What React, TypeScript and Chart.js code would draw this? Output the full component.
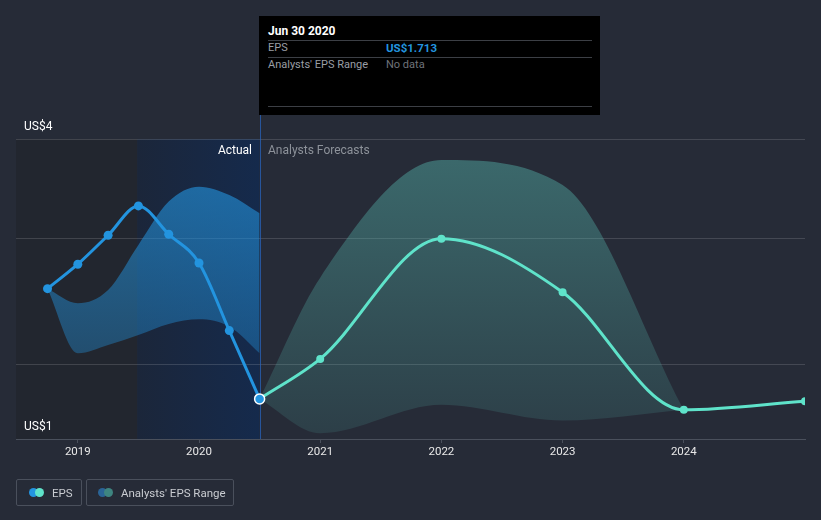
import React, { useEffect, useRef } from "react";
import { Chart, registerables } from "chart.js";

Chart.register(...registerables);

// ---- data ----
const actualDates = [2018.75, 2019.0, 2019.25, 2019.5, 2019.75, 2020.0, 2020.25, 2020.5];
const actualEps = [2.683, 2.898, 3.153, 3.411, 3.162, 2.909, 2.314, 1.713];
const pastRangeHigh = [2.683, 2.555, 2.672, 3.068, 3.449, 3.58, 3.507, 3.346];
const pastRangeLow = [2.683, 2.115, 2.188, 2.276, 2.373, 2.414, 2.349, 2.115];

const forecastDates = [2020.5, 2021, 2022, 2023, 2024, 2025];
const forecastEps = [1.713, 2.065, 3.123, 2.652, 1.617, 1.693];

const rangeDates = [2020.5, 2021, 2022, 2023, 2024];
const rangeHigh = [1.713, 2.78, 3.815, 3.595, 1.617];
const rangeLow = [1.713, 1.411, 1.661, 1.522, 1.617];

const yearTicks = [2019, 2020, 2021, 2022, 2023, 2024];
const yGridValues = [1.36, 2.02, 3.12, 4];
const yTickLabels = ["US$1", "", "", "US$4"];

const xMin = 2018.49;
const xMax = 2025.0;
const yMin = 1.36;
const yMax = 4;
const actualStart = 2019.49;
const nowDate = 2020.5;

const BG = "#262b37";
const BLUE = "#2394df";
const TEAL = "#5fe3ca";
const FONT = "Roboto, 'Open Sans', sans-serif";

const toPts = (xs: number[], ys: number[]) => xs.map((x, i) => ({ x, y: ys[i] }));

const bgPlugin = {
  id: "bgRegions",
  beforeDraw(chart: any) {
    const { ctx, chartArea, scales } = chart;
    const x = scales.x;
    ctx.save();
    ctx.fillStyle = BG;
    ctx.fillRect(0, 0, chart.width, chart.height);
    const x0 = chartArea.left;
    const x1 = x.getPixelForValue(actualStart);
    const x2 = x.getPixelForValue(nowDate);
    ctx.fillStyle = "#22262f";
    ctx.fillRect(x0, chartArea.top, x1 - x0, chartArea.bottom - chartArea.top);
    const g = ctx.createLinearGradient(x1, 0, x2, 0);
    g.addColorStop(0, "rgb(27,38,58)");
    g.addColorStop(1, "rgb(21,42,76)");
    ctx.fillStyle = g;
    ctx.fillRect(x1, chartArea.top, x2 - x1, chartArea.bottom - chartArea.top);
    ctx.restore();
  },
  beforeDatasetsDraw(chart: any) {
    const { ctx, chartArea, scales } = chart;
    const x2 = Math.round(scales.x.getPixelForValue(nowDate)) + 0.5;
    ctx.save();
    ctx.strokeStyle = "rgba(40,100,190,0.75)";
    ctx.lineWidth = 1;
    ctx.beginPath();
    ctx.moveTo(x2, 115);
    ctx.lineTo(x2, chartArea.bottom);
    ctx.stroke();
    ctx.restore();
  },
};

function vGrad(rgb: string, aTop: number, aBottom: number) {
  return (c: any) => {
    const chart = c.chart;
    const area = chart.chartArea;
    if (!area) return `rgba(${rgb},${aTop})`;
    const g = chart.ctx.createLinearGradient(0, area.top, 0, area.bottom);
    g.addColorStop(0, `rgba(${rgb},${aTop})`);
    g.addColorStop(1, `rgba(${rgb},${aBottom})`);
    return g;
  };
}

function ChartView() {
  const ref = useRef<HTMLCanvasElement | null>(null);
  useEffect(() => {
    if (!ref.current) return;
    const chart = new Chart(ref.current, {
      type: "line",
      data: {
        datasets: [
          {
            label: "EPS",
            data: toPts(actualDates, actualEps),
            borderColor: BLUE,
            backgroundColor: BLUE,
            borderWidth: 3,
            pointRadius: actualDates.map((_, i) => (i === actualDates.length - 1 ? 5 : 4.5)),
            pointBackgroundColor: BLUE,
            pointBorderColor: actualDates.map((_, i) => (i === actualDates.length - 1 ? "#ffffff" : BLUE)),
            pointBorderWidth: actualDates.map((_, i) => (i === actualDates.length - 1 ? 1.5 : 0)),
            cubicInterpolationMode: "monotone",
            fill: false,
            order: 0,
          },
          {
            label: "EPS forecast",
            data: toPts(forecastDates, forecastEps),
            borderColor: TEAL,
            backgroundColor: TEAL,
            borderWidth: 3,
            pointRadius: forecastDates.map((_, i) => (i === 0 ? 0 : 4)),
            pointBorderWidth: 0,
            cubicInterpolationMode: "monotone",
            fill: false,
            order: 1,
          },
          {
            label: "Past range high",
            data: toPts(actualDates, pastRangeHigh),
            borderWidth: 0,
            borderColor: "rgba(0,0,0,0)",
            pointRadius: 0,
            backgroundColor: vGrad("35,148,223", 0.68, 0.24),
            fill: "+1",
            cubicInterpolationMode: "monotone",
            order: 2,
          },
          {
            label: "Past range low",
            data: toPts(actualDates, pastRangeLow),
            borderWidth: 0,
            borderColor: "rgba(0,0,0,0)",
            pointRadius: 0,
            fill: false,
            cubicInterpolationMode: "monotone",
            order: 2,
          },
          {
            label: "Range high",
            data: toPts(rangeDates, rangeHigh),
            borderWidth: 0,
            borderColor: "rgba(0,0,0,0)",
            pointRadius: 0,
            backgroundColor: vGrad("88,190,180", 0.44, 0.13),
            fill: "+1",
            cubicInterpolationMode: "monotone",
            order: 3,
          },
          {
            label: "Range low",
            data: toPts(rangeDates, rangeLow),
            borderWidth: 0,
            borderColor: "rgba(0,0,0,0)",
            pointRadius: 0,
            fill: false,
            cubicInterpolationMode: "monotone",
            order: 3,
          },
        ],
      },
      options: {
        responsive: false,
        animation: false,
        events: [],
        layout: { padding: { left: 16, right: 16, top: 139, bottom: 51 } },
        plugins: { legend: { display: false }, tooltip: { enabled: false } },
        scales: {
          x: {
            type: "linear",
            min: xMin,
            max: xMax,
            afterBuildTicks: (s: any) => {
              s.ticks = yearTicks.map((v) => ({ value: v }));
            },
            afterFit: (s: any) => {
              s.height = 30;
            },
            grid: { display: true, drawOnChartArea: false, drawTicks: true, tickLength: 4, color: "#4a505c" },
            border: { display: true, color: "#4a505c", width: 1 },
            ticks: {
              display: true,
              color: "#e8e8e8",
              font: { family: FONT, size: 11.5 },
              padding: 2,
              maxRotation: 0,
              minRotation: 0,
              autoSkip: false,
              callback: (v: any) => String(v),
            },
          },
          y: {
            type: "linear",
            min: yMin,
            max: yMax,
            afterBuildTicks: (s: any) => {
              s.ticks = yGridValues.map((v) => ({ value: v }));
            },
            afterFit: (s: any) => {
              s.width = 0;
            },
            grid: { color: "rgba(255,255,255,0.14)", drawTicks: false },
            border: { display: false },
            ticks: {
              mirror: true,
              padding: 8,
              labelOffset: -12,
              color: "#ffffff",
              font: { family: FONT, size: 12 },
              autoSkip: false,
              callback: (v: any, i: number) => yTickLabels[i] ?? "",
            },
          },
        },
      },
      plugins: [bgPlugin],
    } as any);
    return () => chart.destroy();
  }, []);
  return <canvas ref={ref} width={821} height={520} style={{ position: "absolute", left: 0, top: 0 }} />;
}

const legendBox: React.CSSProperties = {
  position: "absolute",
  top: 479,
  height: 27,
  boxSizing: "border-box",
  border: "1px solid #4a505c",
  borderRadius: 2,
  display: "flex",
  alignItems: "center",
  fontFamily: FONT,
  fontSize: 11.5,
  color: "#c9ccd1",
};

function Dots({ a, b }: { a: string; b: string }) {
  return (
    <span style={{ position: "relative", width: 15, height: 9, display: "inline-block", marginRight: 8 }}>
      <span style={{ position: "absolute", left: 0, top: 0, width: 9, height: 9, borderRadius: "50%", background: a }} />
      <span style={{ position: "absolute", left: 6, top: 0, width: 9, height: 9, borderRadius: "50%", background: b }} />
    </span>
  );
}

export default function App() {
  return (
    <div
      style={{
        position: "fixed",
        left: 0,
        top: 0,
        width: 821,
        height: 520,
        background: BG,
        overflow: "hidden",
        fontFamily: FONT,
      }}
    >
      <ChartView />
      {/* tooltip */}
      <div
        style={{
          position: "absolute",
          left: 259,
          top: 16,
          width: 341,
          height: 99,
          background: "#000000",
          fontSize: 11,
          color: "#9a9ea5",
        }}
      >
        <div style={{ position: "absolute", left: 9, top: 8, color: "#ffffff", fontWeight: 700, fontSize: 12 }}>
          Jun 30 2020
        </div>
        <div style={{ position: "absolute", left: 9, right: 8, top: 24, borderTop: "1px solid #3c3f45" }} />
        <div style={{ position: "absolute", left: 9, top: 25 }}>EPS</div>
        <div style={{ position: "absolute", left: 127, top: 25, color: "#2394df", fontWeight: 700, fontSize: 11.5 }}>
          US$1.713
        </div>
        <div style={{ position: "absolute", left: 9, right: 8, top: 41, borderTop: "1px solid #3c3f45" }} />
        <div style={{ position: "absolute", left: 9, top: 42 }}>Analysts' EPS Range</div>
        <div style={{ position: "absolute", left: 127, top: 42, color: "#6f737a" }}>No data</div>
        <div style={{ position: "absolute", left: 9, right: 8, top: 90, borderTop: "1px solid #3c3f45" }} />
      </div>
      {/* section labels */}
      <div style={{ position: "absolute", right: 821 - 252, top: 143, color: "#ffffff", fontSize: 12 }}>Actual</div>
      <div style={{ position: "absolute", left: 268, top: 143, color: "#8d929a", fontSize: 12 }}>Analysts Forecasts</div>
      {/* legend */}
      <div style={{ ...legendBox, left: 16, width: 66, paddingLeft: 12 }}>
        <Dots a="#2394df" b="#5fe3ca" />
        EPS
      </div>
      <div style={{ ...legendBox, left: 86, width: 148, paddingLeft: 11 }}>
        <Dots a="#2a6496" b="#3e8580" />
        Analysts' EPS Range
      </div>
    </div>
  );
}
